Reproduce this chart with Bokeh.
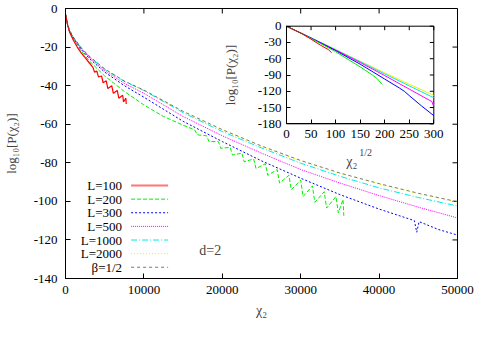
import numpy as np
from bokeh.plotting import figure
from bokeh.models import Range1d, LinearAxis, FixedTicker, Label
from bokeh.embed import file_html
from bokeh.resources import INLINE

# ---------------- data ----------------
x_ticks = [0, 10000, 20000, 30000, 40000, 50000]
y_ticks = [-140, -120, -100, -80, -60, -40, -20, 0]
ix_ticks = [0, 50, 100, 150, 200, 250, 300]
iy_ticks = [-180, -150, -120, -90, -60, -30, 0]

labels = ["L=100", "L=200", "L=300", "L=500", "L=1000", "L=2000", "\u03b2=1/2"]

chi_grid = [0, 250, 500, 1000, 2000, 3000, 5000, 7500, 10000, 15000, 20000,
            25000, 30000, 35000, 40000, 45000, 50000]

L100_x = [0, 250, 500, 1000, 1500, 2000, 2500, 3000, 3500, 3700, 4000, 4200, 4600,
          4800, 5200, 5400, 5900, 6100, 6600, 6800, 7300, 7400, 7700, 7750]
L100_y = [-3, -8.2, -12, -16.5, -20, -23, -25.5, -28, -30.5, -33, -32.5, -35.5, -35,
          -38.5, -37.5, -41.5, -40, -44, -42.5, -46.5, -45, -48.5, -46.5, -49.5]

L200_x = [0, 250, 500, 1000, 2000, 3000, 5000, 7500, 10000, 12500, 15000,
          16500, 16800, 18000, 18300, 19500, 19800, 21000, 21300, 22500, 22800,
          24000, 24300, 25500, 25800, 27000, 27300, 28500, 28800, 30000, 30300,
          31500, 31800, 33000, 33300, 34500, 34800, 35400, 35500]
L200_y = [-3, -8, -11.8, -15.8, -22, -27, -35, -43, -50, -56, -60.5,
          -63, -65.5, -66, -69, -69, -72.5, -72, -76, -75, -79.5,
          -78, -83, -80.5, -86.5, -83.5, -90.5, -86.5, -94, -89, -97.5,
          -92, -100.5, -95, -103.5, -97.5, -106, -99, -107.5]

L300_x = [0, 250, 500, 1000, 2000, 3000, 5000, 7500, 10000, 15000, 20000,
          25000, 30000, 35000, 40000, 44500, 44800, 45100, 47500, 50000]
L300_y = [-3, -8, -11.6, -15.4, -21.2, -25.8, -33, -40, -46, -58.5, -69,
          -79, -88, -96.5, -104, -110, -116, -110.5, -114.5, -117.5]

L500_y = [-3, -8, -11.5, -15.2, -20.8, -25.2, -32.2, -38.8, -44, -56, -66,
          -75, -83.5, -90.5, -97, -103, -108.6]
L1000_y = [-3, -8, -11.5, -15, -20.5, -24.8, -31.5, -37.8, -42.5, -54, -63.8,
           -72.3, -80.2, -87, -93, -98, -102.4]
L2000_y = [-3, -8, -11.5, -15, -20.5, -24.8, -31.5, -37.8, -42.5, -53.5, -63,
           -71.5, -79, -85.5, -91, -96, -100.4]
beta_y = [-3, -7.5, -11, -14.8, -20.3, -24.6, -31.3, -37.6, -42.3, -53.3, -62.8,
          -71.3, -78.8, -85.3, -90.8, -95.8, -100.2]

# inset: log10 P versus chi_2^(1/2)
in100_x = [0, 30, 50, 70, 85, 92]
in100_y = [0, -13, -24, -35.5, -43, -49]
in200_x = [0, 50, 100, 150, 175, 185, 195]
in200_y = [0, -22.5, -47, -75, -90, -97, -107.5]
in300_x = [0, 50, 100, 150, 200, 230, 240, 250, 275, 300]
in300_y = [0, -22, -45, -70, -97.5, -114, -120, -128, -147, -165]
in500_x = [0, 50, 100, 150, 200, 250, 290, 296, 299, 300]
in500_y = [0, -21.7, -44, -67, -91, -116, -136, -139, -146, -141]
in1000_x = [0, 50, 100, 150, 200, 250, 300]
in1000_y = [0, -21.5, -43.3, -65.5, -88, -110, -132]
in2000_x = [0, 50, 100, 150, 200, 250, 300]
in2000_y = [0, -21.5, -43, -64.5, -86, -107, -127.5]

# ---------------- styles ----------------
FONT = "'Liberation Serif', 'DejaVu Serif', serif"
colors = ["#ff0000", "#00ee00", "#0000ff", "#ff00ff", "#00e8e8", "#f0f000", "#555555"]
dashes = ["solid", "4 2", "2 2", "1 1", "6 2 1 2", "1 2", "3 3"]
widths = [1.2, 1, 1, 1, 1, 1, 0.8]

FW, FH = 392, 270
# inset box inside the main frame (pixels from frame left / top)
IL, IR, IT, IB = 221.0, 368.3, 17.7, 115.3
kx = 300.0 / (IR - IL)
ix0 = -IL * kx
ix1 = ix0 + FW * kx
ky = 180.0 / (IB - IT)
iy1 = IT * ky
iy0 = iy1 - FH * ky

p = figure(frame_width=FW, frame_height=FH,
           x_range=Range1d(0, 50000), y_range=Range1d(-140, 0),
           output_backend="svg", toolbar_location=None,
           min_border_left=59, min_border_right=24, min_border_top=8, min_border_bottom=49)
p.xgrid.visible = False
p.ygrid.visible = False
p.outline_line_color = "black"
p.outline_line_width = 1
p.background_fill_color = "white"
p.border_fill_color = "white"
p.extra_x_ranges = {"ix": Range1d(ix0, ix1)}
p.extra_y_ranges = {"iy": Range1d(iy0, iy1)}


def style_axis(ax, ticks, tick_len, fs="13px"):
    ax.ticker = FixedTicker(ticks=ticks)
    ax.major_tick_in = tick_len
    ax.major_tick_out = 0
    ax.minor_tick_in = 0
    ax.minor_tick_out = 0
    ax.axis_line_color = "black"
    ax.major_tick_line_color = "black"
    ax.major_label_overrides = {t: str(t) for t in ticks}
    ax.major_label_text_font = FONT
    ax.major_label_text_color = "black"
    ax.major_label_text_font_size = fs


xa = p.xaxis[0]
style_axis(xa, x_ticks, 5)
xa.major_label_standoff = 7
xa.axis_label = "\u03c7\u2082"
xa.axis_label_text_font = FONT
xa.axis_label_text_font_size = "14px"
xa.axis_label_text_font_style = "normal"
xa.axis_label_standoff = 6

ya = p.yaxis[0]
style_axis(ya, y_ticks, 5)
ya.major_label_standoff = 8
ya.axis_label = "log\u2081\u2080[P(\u03c7\u2082)]"
ya.axis_label_text_font = FONT
ya.axis_label_text_font_size = "13px"
ya.axis_label_text_font_style = "normal"
ya.axis_label_standoff = 12

# mirrored inward ticks on the top and right edges of the main frame
xr, yr = p.x_range, p.y_range
p.ray(x=x_ticks, y=[yr.end] * len(x_ticks), length=5, length_units="screen",
      angle=-np.pi / 2, line_color="black", line_width=1)
p.ray(x=[xr.end] * len(y_ticks), y=y_ticks, length=5, length_units="screen",
      angle=np.pi, line_color="black", line_width=1)

# inset axes (left and bottom carry labels)
ib = LinearAxis(x_range_name="ix", y_range_name="iy", fixed_location=iy_ticks[0],
                bounds=(ix_ticks[0], ix_ticks[-1]))
style_axis(ib, ix_ticks, 4)
ib.major_label_standoff = 6
p.add_layout(ib, "below")
il = LinearAxis(x_range_name="ix", y_range_name="iy", fixed_location=ix_ticks[0],
                bounds=(iy_ticks[0], iy_ticks[-1]))
style_axis(il, iy_ticks, 4)
il.major_label_standoff = 5
p.add_layout(il, "left")
# inset box and its mirrored ticks
p.quad(left=ix_ticks[0], right=ix_ticks[-1], bottom=iy_ticks[0], top=iy_ticks[-1],
       x_range_name="ix", y_range_name="iy", fill_color=None, line_color="black",
       line_width=1)
p.ray(x=ix_ticks, y=[iy_ticks[-1]] * len(ix_ticks), length=4, length_units="screen",
      angle=-np.pi / 2, x_range_name="ix", y_range_name="iy", line_color="black")
p.ray(x=[ix_ticks[-1]] * len(iy_ticks), y=iy_ticks, length=4, length_units="screen",
      angle=np.pi, x_range_name="ix", y_range_name="iy", line_color="black")

# main curves
main_xy = [(L100_x, L100_y), (L200_x, L200_y), (L300_x, L300_y), (chi_grid, L500_y),
           (chi_grid, L1000_y), (chi_grid, L2000_y), (chi_grid, beta_y)]
for i in [5, 4, 3, 2, 1, 0, 6]:
    xs, ys = main_xy[i]
    p.line(xs, ys, line_color=colors[i], line_dash=dashes[i], line_width=widths[i])

# inset curves
inset_xy = [(in100_x, in100_y), (in200_x, in200_y), (in300_x, in300_y),
            (in500_x, in500_y), (in1000_x, in1000_y), (in2000_x, in2000_y)]
for i in [5, 4, 3, 2, 1, 0]:
    xs, ys = inset_xy[i]
    p.line(xs, ys, x_range_name="ix", y_range_name="iy", line_color=colors[i],
           line_width=1)

# gnuplot-style key: text right-aligned, line sample to its right
ROW0, PITCH = 93.0, 13.63          # screen px from the frame bottom
KEY_TEXT_X, KEY_LINE_X, KEY_LINE_LEN = 56.6, 65.6, 37
for i, t in enumerate(labels):
    sy = ROW0 - PITCH * i
    p.add_layout(Label(x=KEY_TEXT_X, y=sy, x_units="screen", y_units="screen",
                       text=t, text_font=FONT, text_font_size="13px",
                       text_align="right", text_baseline="middle", text_color="black"))
    kx_d = xr.start + KEY_LINE_X / FW * (xr.end - xr.start)
    ky_d = yr.start + sy / FH * (yr.end - yr.start)
    p.ray(x=[kx_d], y=[ky_d], length=KEY_LINE_LEN, length_units="screen", angle=0,
          line_color=colors[i], line_dash=dashes[i],
          line_width=(1.8 if i == 0 else widths[i]),
          line_alpha=(0.55 if i == 0 else 1.0))

p.add_layout(Label(x=144.8, y=28.4, x_units="screen", y_units="screen", text="d=2",
                   text_font=FONT, text_font_size="14px", text_align="center",
                   text_baseline="middle"))

# inset axis labels
p.add_layout(Label(x=165.3, y=203.5, x_units="screen", y_units="screen",
                   text="log\u2081\u2080[P(\u03c7\u2082)]", angle=np.pi / 2,
                   text_font=FONT, text_font_size="13px", text_align="center",
                   text_baseline="middle"))
p.add_layout(Label(x=286.3, y=116.7, x_units="screen", y_units="screen",
                   text="\u03c7\u2082", text_font=FONT, text_font_size="14px",
                   text_align="center", text_baseline="middle"))
p.add_layout(Label(x=293.8, y=125.7, x_units="screen", y_units="screen",
                   text="1/2", text_font=FONT, text_font_size="10px",
                   text_align="left", text_baseline="middle"))

open("out.html", "w").write(file_html(p, INLINE))
